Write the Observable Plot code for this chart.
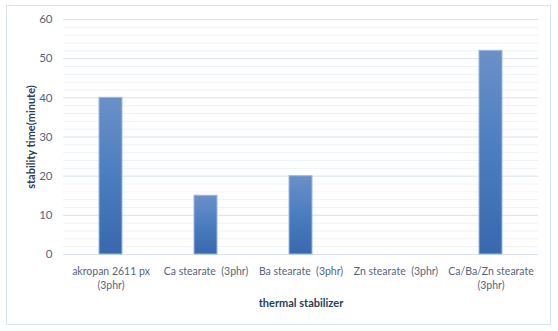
<!DOCTYPE html>
<html><head><meta charset="utf-8">
<script src="https://cdn.jsdelivr.net/npm/d3@7"></script>
<script src="https://cdn.jsdelivr.net/npm/@observablehq/plot@0.6"></script>
<style>
body{margin:0;background:#fff;}
#wrap{position:absolute;left:0;top:0;width:558px;height:331px;}
#frame{position:absolute;left:6px;top:5px;width:545px;height:320px;border:1px solid #d9e3f0;box-sizing:border-box;}
</style></head><body>
<div id="wrap"><div id="frame"></div><div id="chart"></div></div>
<script>
const categories = ["akropan 2611 px\n(3phr)", "Ca stearate  (3phr)", "Ba stearate  (3phr)", "Zn stearate  (3phr)", "Ca/Ba/Zn stearate\n(3phr)"];
const values = [40, 15, 20, 0, 52];
const majorTicks = [0, 10, 20, 30, 40, 50, 60];
const minorTicks = [2, 4, 6, 8, 12, 14, 16, 18, 22, 24, 26, 28, 32, 34, 36, 38, 42, 44, 46, 48, 52, 54, 56, 58];

const data = categories.map((c, i) => ({cat: c, v: values[i]}));
const font = "Lato, 'Open Sans', sans-serif";

const plot = Plot.plot({
  width: 558, height: 331,
  marginLeft: 63, marginRight: 20, marginTop: 19, marginBottom: 77,
  style: {fontFamily: font, fontSize: "11px", color: "#56657d", background: "transparent"},
  x: {domain: categories, paddingInner: 0.76, paddingOuter: 0.38, label: null, tickSize: 0, tickPadding: 10},
  y: {domain: [0, 60], label: null, ticks: majorTicks, tickSize: 0, tickPadding: 10},
  marks: [
    Plot.ruleY(minorTicks, {stroke: "#eef2f8", strokeWidth: 1}),
    Plot.ruleY(majorTicks, {stroke: "#d8e2ef", strokeWidth: 1}),
    Plot.barY(data.filter(d => d.v > 0), {x: "cat", y: "v", fill: "url(#barGrad)", stroke: "#9cb8e0", strokeWidth: 1}),
    Plot.axisX({tickSize: 0, tickPadding: 10, fontSize: 10.5, lineHeight: 1.35}),
    Plot.axisY({ticks: majorTicks, tickSize: 0, tickPadding: 11, fontSize: 11.5}),
    Plot.text(["thermal stabilizer"], {frameAnchor: "bottom", dy: 52, fontWeight: "bold", fill: "#2c3d5b", fontSize: 11}),
    Plot.text(["stability time(minute)"], {frameAnchor: "left", textAnchor: "middle", dx: -32, rotate: -90, fontWeight: "bold", fill: "#2c3d5b", fontSize: 11})
  ]
});
const defs = d3.select(plot).insert("defs", ":first-child");
const g = defs.append("linearGradient").attr("id", "barGrad").attr("x1", 0).attr("y1", 0).attr("x2", 0).attr("y2", 1);
g.append("stop").attr("offset", "0%").attr("stop-color", "#6b90c8");
g.append("stop").attr("offset", "50%").attr("stop-color", "#4a7dc0");
g.append("stop").attr("offset", "100%").attr("stop-color", "#3868ad");
d3.select(plot).style("position", "absolute").style("left", "0px").style("top", "0px").style("overflow", "visible");
document.getElementById("chart").appendChild(plot);
</script>
</body></html>
